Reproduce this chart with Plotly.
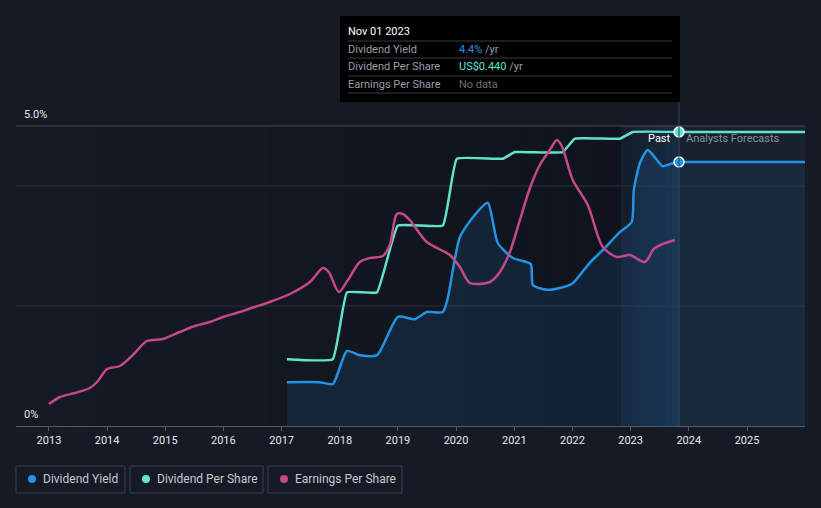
import plotly.graph_objects as go

# ---------------- data ----------------
yield_dates = ["2017-02-03", "2017-08-28", "2017-11-18", "2018-02-15", "2018-05-07", "2018-08-22",
               "2019-01-01", "2019-04-17", "2019-07-01", "2019-10-10", "2019-11-10", "2019-12-12",
               "2020-01-25", "2020-04-16", "2020-07-18", "2020-09-19", "2020-12-23", "2021-04-14",
               "2021-04-27", "2021-07-24", "2021-10-13", "2022-01-03", "2022-04-19", "2022-07-10",
               "2022-10-25", "2023-01-08", "2023-01-21", "2023-02-28", "2023-04-18", "2023-06-02",
               "2023-07-22", "2023-09-23", "2023-11-01"]
yield_vals = [0.73, 0.73, 0.70, 1.25, 1.18, 1.18,
              1.82, 1.78, 1.90, 1.90, 2.13, 2.60,
              3.15, 3.48, 3.72, 3.05, 2.80, 2.70,
              2.35, 2.27, 2.30, 2.38, 2.72, 2.93,
              3.23, 3.40, 3.93, 4.38, 4.60, 4.48,
              4.33, 4.38, 4.40]
yield_fc_dates = ["2023-11-01", "2025-12-31"]
yield_fc_vals = [4.40, 4.40]

dps_dates = ["2017-02-03", "2017-11-18", "2018-02-15", "2018-08-22", "2019-01-01", "2019-10-10",
             "2020-01-06", "2020-10-21", "2021-01-05", "2021-11-01", "2022-01-16", "2022-10-25",
             "2023-01-15", "2023-11-01"]
dps_vals = [0.10, 0.10, 0.20, 0.20, 0.30, 0.30, 0.40, 0.40, 0.41, 0.41, 0.43, 0.43, 0.44, 0.44]
dps_fc_dates = ["2023-11-01", "2025-12-31"]
dps_fc_vals = [0.44, 0.44]

eps_dates = ["2013-01-01", "2013-03-11", "2013-06-13", "2013-09-15", "2013-11-04", "2014-01-01",
             "2014-03-22", "2014-06-12", "2014-09-08", "2014-12-17", "2015-04-03", "2015-07-06",
             "2015-10-08", "2015-12-29", "2016-04-13", "2016-07-16", "2016-10-18", "2017-02-22",
             "2017-06-27", "2017-09-17", "2017-10-24", "2017-12-26", "2018-02-21", "2018-05-07",
             "2018-07-09", "2018-09-28", "2018-11-11", "2018-12-25", "2019-02-01", "2019-03-16",
             "2019-07-01", "2019-11-23", "2020-01-25", "2020-03-28", "2020-07-31", "2020-10-02",
             "2020-12-04", "2021-02-05", "2021-04-09", "2021-06-10", "2021-08-12", "2021-09-25",
             "2021-10-26", "2022-01-03", "2022-04-07", "2022-07-10", "2022-10-06", "2022-12-28",
             "2023-03-31", "2023-06-02", "2023-10-06"]
eps_vals = [0.11, 0.145, 0.165, 0.19, 0.225, 0.285,
            0.30, 0.355, 0.425, 0.435, 0.47, 0.50,
            0.52, 0.545, 0.57, 0.595, 0.62, 0.66,
            0.72, 0.79, 0.77, 0.67, 0.73, 0.82,
            0.84, 0.85, 0.905, 1.06, 1.06, 1.03,
            0.92, 0.855, 0.795, 0.715, 0.72, 0.77,
            0.87, 1.03, 1.19, 1.305, 1.38, 1.43,
            1.40, 1.23, 1.105, 0.895, 0.845, 0.855,
            0.82, 0.89, 0.93]

year_ticks = ["2013-01-01", "2014-01-01", "2015-01-01", "2016-01-01", "2017-01-01", "2018-01-01",
              "2019-01-01", "2020-01-01", "2021-01-01", "2022-01-01", "2023-01-01", "2024-01-01",
              "2025-01-01"]
year_labels = ["2013", "2014", "2015", "2016", "2017", "2018", "2019", "2020", "2021", "2022",
               "2023", "2024", "2025"]
y_label_vals = [0, 5]
y_label_text = ["0%", "5.0%"]

legend_names = ["Dividend Yield", "Dividend Per Share", "Earnings Per Share"]

# ---------------- styling ----------------
BG = "#151a24"
BLUE = "#2394e3"
TEAL = "#5fe3cb"
PINK = "#c4488a"
FONT = "Roboto"

W, H = 821, 508
L, R, T, B = 16, 16, 126, 82
PW = W - L - R
PH = H - T - B


def px(x):
    return (x - L) / PW


def py(y):
    return (H - B - y) / PH


fig = go.Figure()

fig.add_trace(go.Scatter(x=yield_dates, y=yield_vals, mode="lines", line=dict(color=BLUE, width=2.5, shape="spline", smoothing=0.6),
                         fill="tozeroy", fillcolor="rgba(35,120,200,0.16)", hoverinfo="skip"))
fig.add_trace(go.Scatter(x=yield_fc_dates, y=yield_fc_vals, mode="lines", line=dict(color=BLUE, width=2.5),
                         fill="tozeroy", fillcolor="rgba(35,120,200,0.10)", hoverinfo="skip"))
fig.add_trace(go.Scatter(x=dps_dates, y=dps_vals, mode="lines", yaxis="y2",
                         line=dict(color=TEAL, width=2.5, shape="spline", smoothing=0.3), hoverinfo="skip"))
fig.add_trace(go.Scatter(x=dps_fc_dates, y=dps_fc_vals, mode="lines", yaxis="y2",
                         line=dict(color=TEAL, width=2.5), hoverinfo="skip"))
fig.add_trace(go.Scatter(x=eps_dates, y=eps_vals, mode="lines", yaxis="y3",
                         line=dict(color=PINK, width=2.5, shape="spline", smoothing=0.8), hoverinfo="skip"))
# end markers at Nov 01 2023
fig.add_trace(go.Scatter(x=[dps_dates[-1]], y=[dps_vals[-1]], mode="markers", yaxis="y2",
                         marker=dict(color=TEAL, size=10, line=dict(color="white", width=1.5)), hoverinfo="skip"))
fig.add_trace(go.Scatter(x=[yield_dates[-1]], y=[yield_vals[-1]], mode="markers",
                         marker=dict(color=BLUE, size=10, line=dict(color="white", width=1.5)), hoverinfo="skip"))

shapes = []
# darkening gradient over past area
n = 24
x0, x1 = 16, 621
for i in range(n):
    a = 0.02 + 0.30 * (i / (n - 1)) ** 1.3
    shapes.append(dict(type="rect", xref="paper", yref="paper", x0=px(x0 + (x1 - x0) * i / n), x1=px(x0 + (x1 - x0) * (i + 1) / n),
                       y0=0, y1=1, fillcolor=f"rgba(5,7,11,{a:.3f})", line=dict(width=0), layer="below"))
# past band
m = 8
for i in range(m):
    a = 0.06 + 0.14 * i / (m - 1)
    shapes.append(dict(type="rect", xref="paper", yref="paper", x0=px(621 + 58 * i / m), x1=px(621 + 58 * (i + 1) / m),
                       y0=0, y1=1, fillcolor=f"rgba(30,110,180,{a:.3f})", line=dict(width=0), layer="below"))
# forecast region
shapes.append(dict(type="rect", xref="paper", yref="paper", x0=px(679), x1=1, y0=0, y1=1,
                   fillcolor="rgba(40,60,85,0.22)", line=dict(width=0), layer="below"))
# gridlines
for gy, col in [(186, "#2b313b"), (306, "#2b313b"), (126, "#474d57")]:
    shapes.append(dict(type="line", xref="paper", yref="paper", x0=0, x1=1, y0=py(gy), y1=py(gy),
                       line=dict(color=col, width=1), layer="below"))
# vertical hover line
shapes.append(dict(type="line", xref="paper", yref="paper", x0=px(679), x1=px(679), y0=0, y1=py(100),
                   line=dict(color="#34465a", width=1)))
# tooltip box
shapes.append(dict(type="rect", xref="paper", yref="paper", x0=px(340), x1=px(680), y0=py(102), y1=py(16),
                   fillcolor="#000000", line=dict(width=0)))
for sy in [41, 58, 76, 93]:
    shapes.append(dict(type="line", xref="paper", yref="paper", x0=px(348), x1=px(672), y0=py(sy), y1=py(sy),
                       line=dict(color="#3a3a3a", width=1)))
# legend boxes
boxes = [(16, 125), (130, 263), (268, 402)]
for (bx0, bx1) in boxes:
    shapes.append(dict(type="rect", xref="paper", yref="paper", x0=px(bx0), x1=px(bx1), y0=py(493), y1=py(466),
                       fillcolor="rgba(0,0,0,0)", line=dict(color="#3b414d", width=1)))
for cx, col in zip([32, 146, 284], [BLUE, TEAL, PINK]):
    shapes.append(dict(type="circle", xref="paper", yref="paper", x0=px(cx - 4), x1=px(cx + 4), y0=py(483), y1=py(475),
                       fillcolor=col, line=dict(width=0)))

annotations = []


def ann(x, y, text, color, size=11, xanchor="left"):
    annotations.append(dict(x=px(x), y=py(y), xref="paper", yref="paper", text=text, showarrow=False,
                            xanchor=xanchor, yanchor="middle", font=dict(family=FONT, size=size, color=color)))


ann(346, 31, "Nov 01 2023", "#ffffff", 11)
ann(346, 49, "Dividend Yield", "#9a9ea6", 11)
ann(346, 66, "Dividend Per Share", "#9a9ea6", 11)
ann(346, 84, "Earnings Per Share", "#9a9ea6", 11)
ann(457, 49, f"<span style='color:{BLUE}'>4.4%</span> /yr", "#9a9ea6", 11)
ann(457, 66, f"<span style='color:{TEAL}'>US$0.440</span> /yr", "#9a9ea6", 11)
ann(457, 84, "No data", "#6c7079", 11)
ann(673, 138, "Past", "#ffffff", 11, "right")
ann(684, 138, "Analysts Forecasts", "#8a8f98", 11)
for tx, name in zip([41, 155, 293], legend_names):
    ann(tx, 479, name, "#c6c9cf", 12)

# y-axis labels drawn above their gridlines (data coords on the yield axis)
for v, t in zip(y_label_vals, y_label_text):
    annotations.append(dict(x=px(22), y=v, xref="paper", yref="y", text=t, showarrow=False,
                            xanchor="left", yanchor="bottom", yshift=3,
                            font=dict(family=FONT, size=11, color="#e6e8eb")))

fig.update_layout(
    width=W, height=H,
    margin=dict(l=L, r=R, t=T, b=B),
    paper_bgcolor=BG, plot_bgcolor=BG,
    showlegend=False,
    font=dict(family=FONT, color="#e6e8eb"),
    shapes=shapes, annotations=annotations,
    xaxis=dict(type="date", range=["2012-06-08", "2025-12-31"], tickvals=year_ticks, ticktext=year_labels,
               showgrid=False, zeroline=False, showline=True, linecolor="#555a63", linewidth=1,
               ticks="outside", ticklen=4, tickcolor="#555a63", tickfont=dict(size=11, color="#e6e8eb", family=FONT)),
    yaxis=dict(range=[0, 5], showticklabels=False, showgrid=False, zeroline=False, ticks="", fixedrange=True),
    yaxis2=dict(range=[0, 0.449], overlaying="y", visible=False),
    yaxis3=dict(range=[0, 1.5], overlaying="y", visible=False),
)

fig.write_html("out.html", config={"displayModeBar": False},
               post_script="document.body.style.margin='0';document.body.style.background='" + BG + "';")
